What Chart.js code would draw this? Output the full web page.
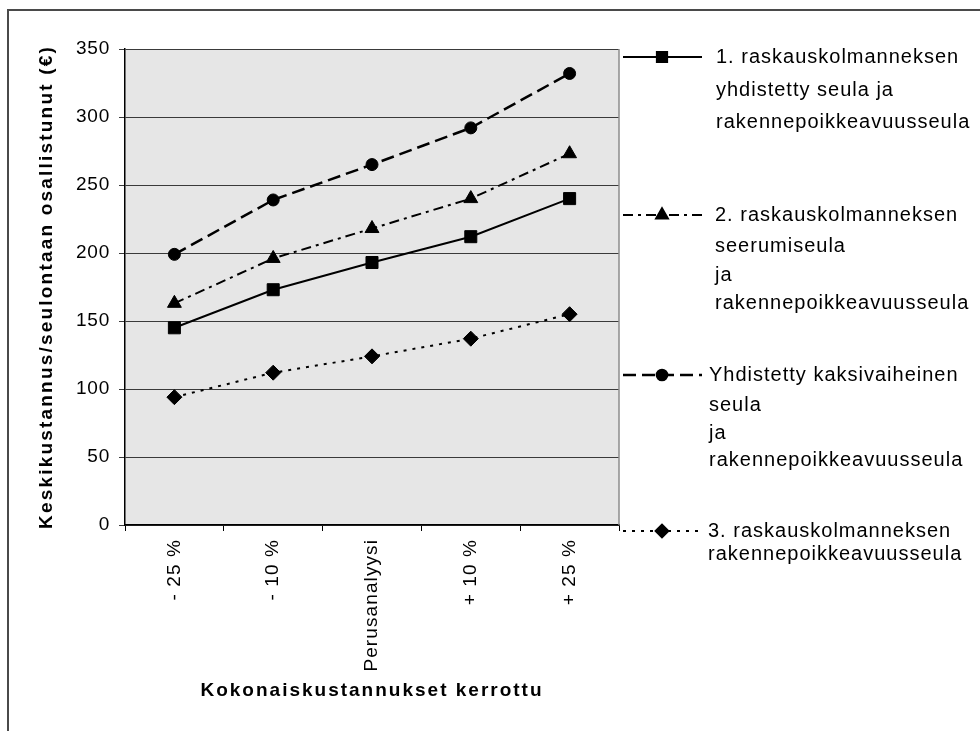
<!DOCTYPE html>
<html>
<head>
<meta charset="utf-8">
<script src="https://cdn.jsdelivr.net/npm/chart.js@4.4.1/dist/chart.umd.min.js"></script>
<style>
  html, body { margin: 0; padding: 0; background: #fff; }
  #wrap { width: 980px; height: 731px; }
</style>
</head>
<body>
<div id="wrap"><canvas id="chart" width="980" height="731"></canvas></div>
<script>
'use strict';

const CATEGORIES = ['- 25 %', '- 10 %', 'Perusanalyysi', '+ 10 %', '+ 25 %'];
const COMBINED_1ST = [145, 173, 193, 212, 240];
const SERUM_2ND = [163, 196, 218, 240, 273];
const TWO_STAGE = [199, 239, 265, 292, 332];
const STRUCT_3RD = [94, 112, 124, 137, 155];
const Y_MIN = 0, Y_MAX = 350, Y_STEP = 50;
const LEGEND_TEXT = [
    ['1. raskauskolmanneksen', 'yhdistetty seula ja', 'rakennepoikkeavuusseula'],
    ['2. raskauskolmanneksen', 'seerumiseula', 'ja', 'rakennepoikkeavuusseula'],
    ['Yhdistetty kaksivaiheinen', 'seula', 'ja', 'rakennepoikkeavuusseula'],
    ['3. raskauskolmanneksen', 'rakennepoikkeavuusseula'],
];
const X_TITLE = 'Kokonaiskustannukset kerrottu';
const Y_TITLE = 'Keskikustannus/seulontaan osallistunut (€)';

const FONT = "'Liberation Sans', Arial, sans-serif";

// wrap a scale draw method so its text gets some letter spacing (Excel look)
function spaced(fn, px) {
    return function () {
        const ctx = this.ctx;
        ctx.save();
        ctx.letterSpacing = px + 'px';
        fn.apply(this, arguments);
        ctx.restore();
    };
}

const framePlugin = {
    id: 'frame',
    beforeDraw(chart) {
        const { ctx, chartArea: a } = chart;
        const xs = chart.scales.x, ys = chart.scales.y;
        if (!xs._spaced) {
            xs.drawLabels = spaced(xs.drawLabels, 1.1);
            xs.drawTitle = spaced(xs.drawTitle, 2);
            ys.drawLabels = spaced(ys.drawLabels, 0.8);
            ys.drawTitle = spaced(ys.drawTitle, 2.2);
            xs._spaced = true;
        }
        ctx.save();
        ctx.fillStyle = '#fff';
        ctx.fillRect(0, 0, chart.width, chart.height);
        // outer border (left + top only visible)
        ctx.strokeStyle = '#4a4a4a';
        ctx.lineWidth = 2;
        ctx.beginPath();
        ctx.moveTo(8, chart.height);
        ctx.lineTo(8, 10);
        ctx.lineTo(chart.width, 10);
        ctx.stroke();
        ctx.fillStyle = '#e6e6e6';
        ctx.fillRect(a.left, a.top, a.right - a.left, a.bottom - a.top);
        ctx.restore();
    },
    beforeDatasetsDraw(chart) {
        const { ctx, chartArea: a } = chart;
        ctx.save();
        ctx.strokeStyle = '#8c8c8c';
        ctx.lineWidth = 1.5;
        ctx.beginPath();
        ctx.moveTo(a.right, a.top);
        ctx.lineTo(a.right, a.bottom);
        ctx.stroke();
        ctx.restore();
    },
    afterDraw(chart) {
        const ctx = chart.ctx;
        const rows = [[57, 90, 122], [215, 246, 275, 303], [375, 405, 433, 460], [531, 554]];
        const textX = [716, 715, 709, 708];
        ctx.save();
        chart.data.datasets.forEach((ds, i) => {
            const y = rows[i][0];
            ctx.strokeStyle = '#000';
            ctx.lineWidth = ds.borderWidth;
            ctx.setLineDash(ds.borderDash || []);
            ctx.beginPath();
            ctx.moveTo(623, y);
            ctx.lineTo(702, y);
            ctx.stroke();
            ctx.setLineDash([]);
            ctx.fillStyle = '#000';
            Chart.helpers.drawPoint(ctx, {
                pointStyle: ds.pointStyle, radius: ds.pointRadius * 0.85,
                rotation: 0, borderWidth: 1
            }, 662, y);
            ctx.font = '20px ' + FONT;
            ctx.letterSpacing = '1px';
            ctx.textBaseline = 'middle';
            ctx.textAlign = 'left';
            LEGEND_TEXT[i].forEach((line, j) => ctx.fillText(line, textX[i], rows[i][j]));
            ctx.letterSpacing = '0px';
        });
        ctx.restore();
    }
};

function series(label, data, style, radius, dash, width) {
    return {
        label, data,
        borderColor: '#000', backgroundColor: '#000',
        pointBackgroundColor: '#000', pointBorderColor: '#000',
        pointStyle: style, pointRadius: radius, pointBorderWidth: 1,
        borderWidth: width, borderDash: dash, tension: 0, fill: false
    };
}

new Chart(document.getElementById('chart'), {
    type: 'line',
    data: {
        labels: CATEGORIES,
        datasets: [
            series(LEGEND_TEXT[0].join(' '), COMBINED_1ST, 'rect', 8.5, [], 2),
            series(LEGEND_TEXT[1].join(' '), SERUM_2ND, 'triangle', 8, [10, 5, 3, 5], 2),
            series(LEGEND_TEXT[2].join(' '), TWO_STAGE, 'circle', 6, [13, 6], 2.5),
            series(LEGEND_TEXT[3].join(' '), STRUCT_3RD, 'rectRot', 7.5, [3, 6], 2),
        ]
    },
    options: {
        responsive: false,
        animation: false,
        layout: { padding: { left: 0, top: 49, right: 361, bottom: 0 } },
        plugins: { legend: { display: false }, tooltip: { enabled: false } },
        scales: {
            x: {
                offset: true,
                grid: { offset: true, drawOnChartArea: false, color: '#000', tickLength: 6 },
                border: { color: '#000', width: 1.5 },
                ticks: {
                    color: '#000', font: { family: FONT, size: 19 },
                    minRotation: 90, maxRotation: 90, autoSkip: false, padding: 8
                },
                title: {
                    display: true, text: X_TITLE, color: '#000',
                    font: { family: FONT, size: 19, weight: 'bold' },
                    padding: { top: 29, bottom: 29 }
                },
                afterFit(s) { s.height = 206; }
            },
            y: {
                min: Y_MIN, max: Y_MAX,
                grid: { color: '#3a3a3a', tickLength: 6 },
                border: { color: '#000', width: 1.5 },
                ticks: {
                    stepSize: Y_STEP, color: '#000',
                    font: { family: FONT, size: 19 }, padding: 9
                },
                title: {
                    display: true, text: Y_TITLE, color: '#000',
                    font: { family: FONT, size: 19, weight: 'bold' },
                    padding: { top: 35, bottom: 35 }
                },
                afterFit(s) { s.width = 125; }
            }
        }
    },
    plugins: [framePlugin]
});
</script>
</body>
</html>
